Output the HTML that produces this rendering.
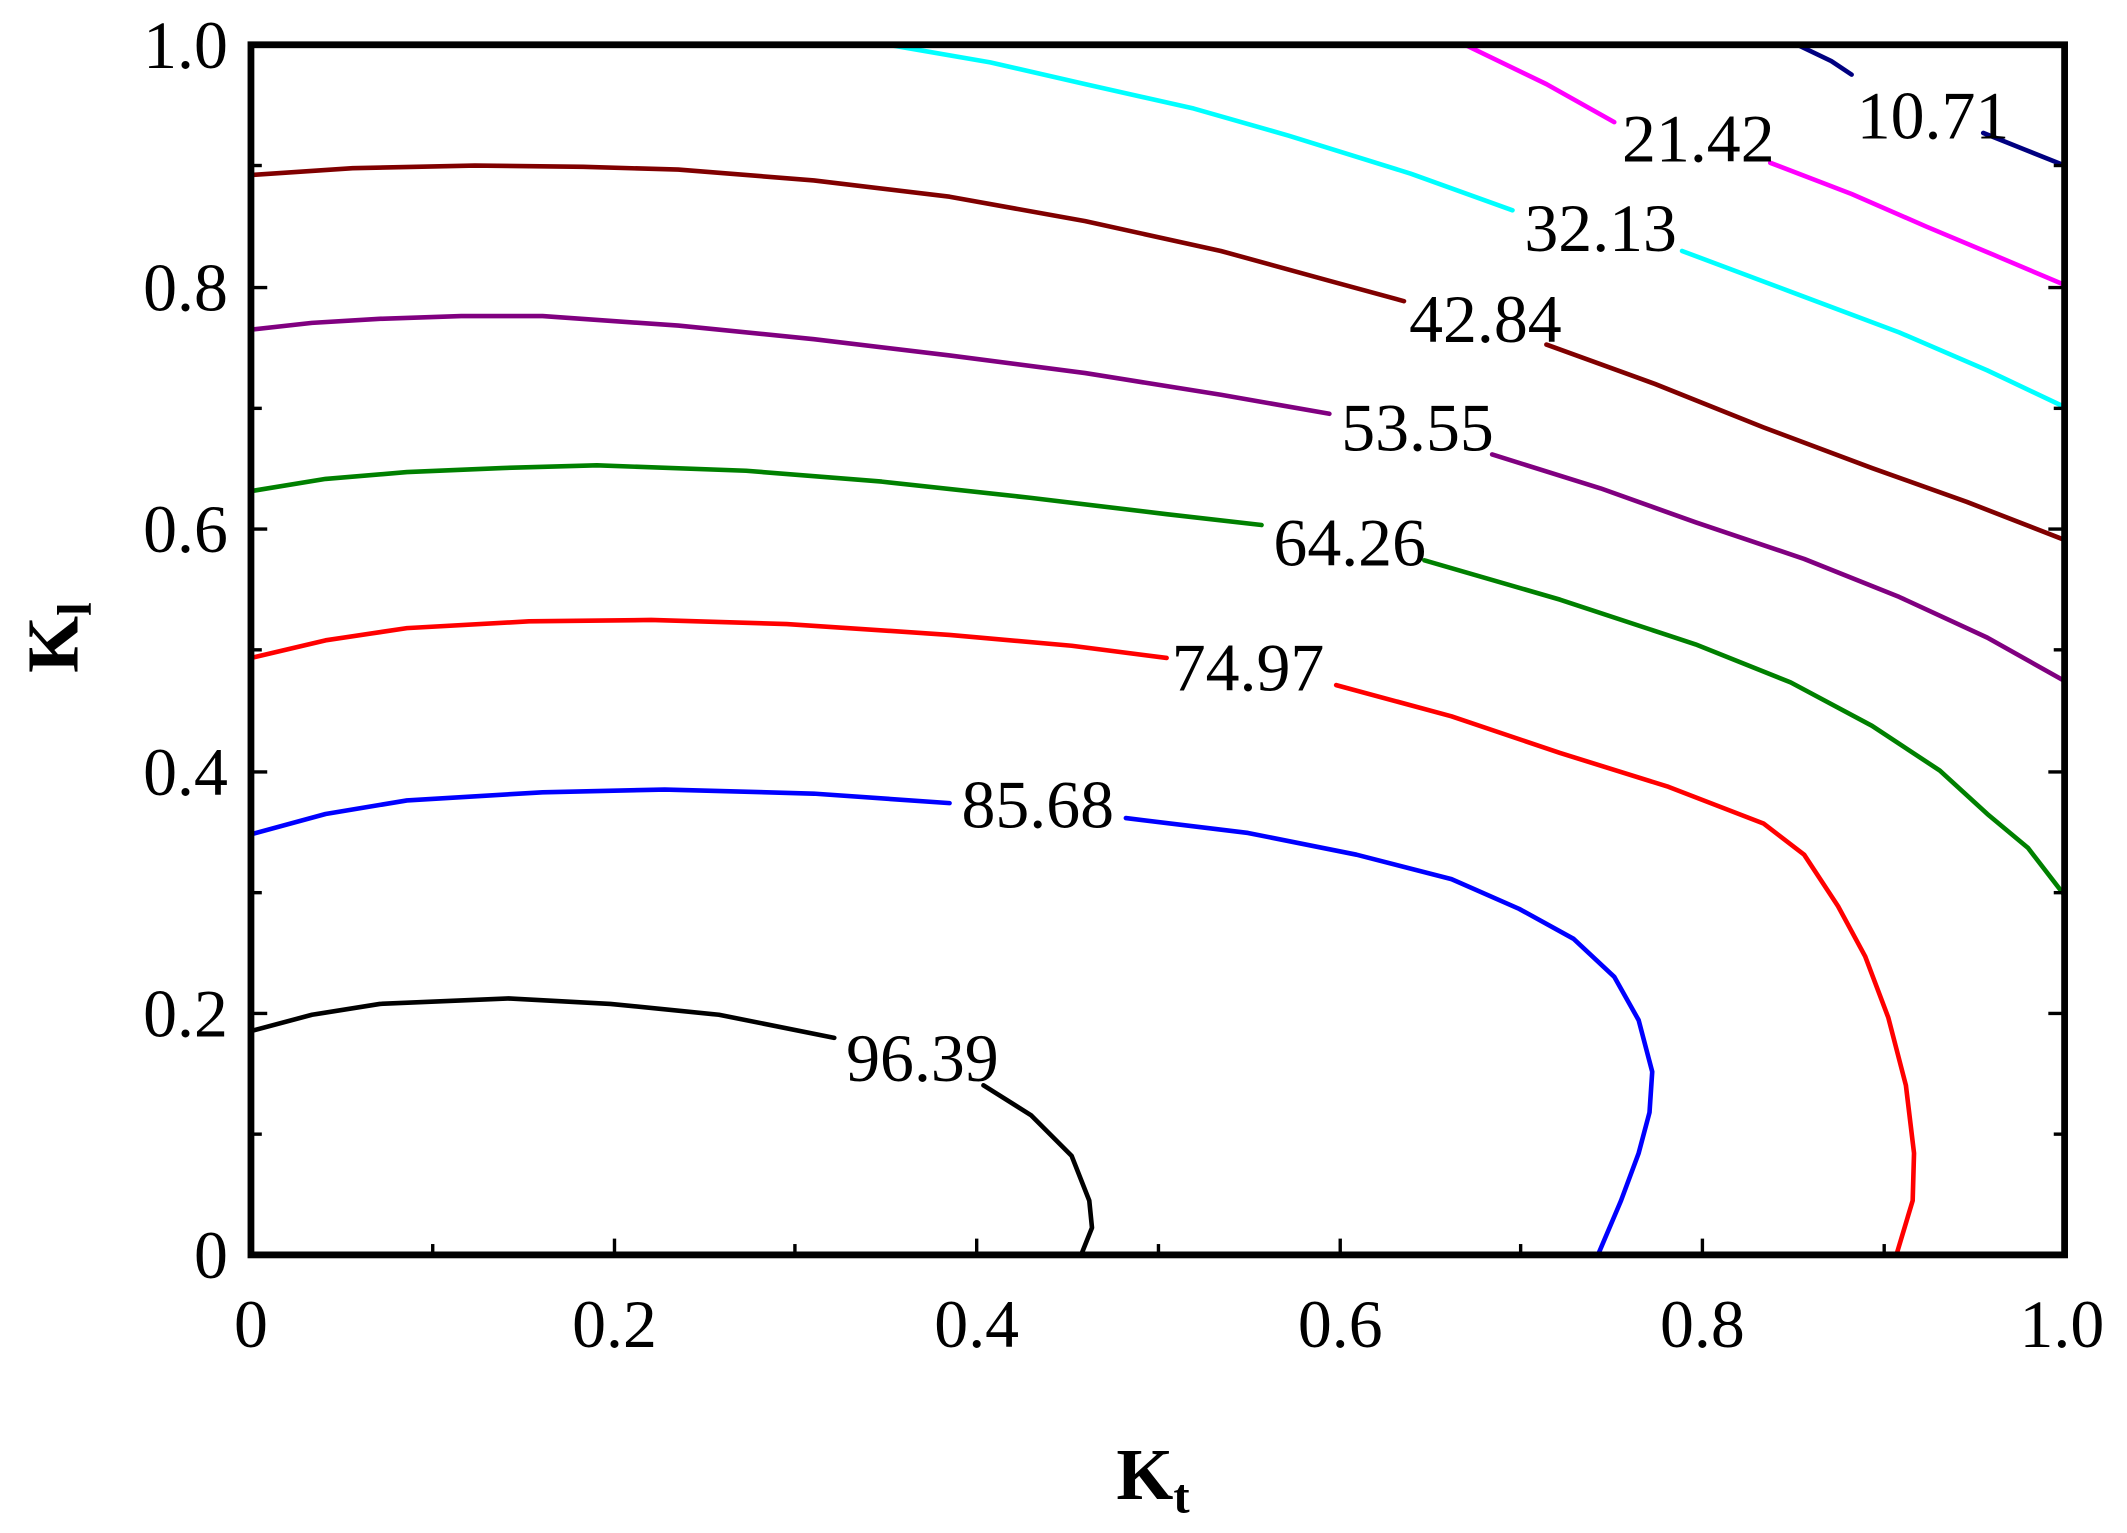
<!DOCTYPE html>
<html><head><meta charset="utf-8"><style>
html,body{margin:0;padding:0;background:#fff;}
svg{display:block;}
text{font-family:"Liberation Serif",serif;}
</style></head><body>
<svg width="2127" height="1533" viewBox="0 0 1568 1130" preserveAspectRatio="none" xmlns="http://www.w3.org/2000/svg">
<rect width="1568" height="1130" fill="#fff"/>
<g fill="none" stroke-width="3.4" stroke-linejoin="round" stroke-linecap="round">
<polyline stroke="#000" points="185,760 230,748 280,740 375,736 450,740 530,748 615,765"/>
<polyline stroke="#000" points="725,800 760,822 790,852 803,885 805,905 797,925"/>
<polyline stroke="#0000ff" points="185,615 240,600 300,590 400,584 490,582 600,585 700,592"/>
<polyline stroke="#0000ff" points="830,603 920,614 1000,630 1070,648 1120,670 1160,692 1190,720 1208,752 1218,790 1216,820 1208,850 1195,885 1178,925"/>
<polyline stroke="#ff0000" points="185,485 240,472 300,463 390,458 480,457 580,460 700,468 790,476 860,485"/>
<polyline stroke="#ff0000" points="985,505 1070,528 1150,555 1230,580 1300,607 1330,630 1355,668 1375,705 1392,750 1405,800 1411,850 1410,885 1398,925"/>
<polyline stroke="#008000" points="185,362 240,353 300,348 370,345 440,343 550,347 650,355 760,367 860,379 930,387"/>
<polyline stroke="#008000" points="1050,413 1150,442 1250,475 1320,503 1380,535 1430,568 1465,600 1495,625 1522,660"/>
<polyline stroke="#800080" points="185,243 230,238 280,235 340,233 400,233 500,240 600,250 700,262 800,275 900,291 980,305"/>
<polyline stroke="#800080" points="1100,335 1180,360 1250,385 1330,412 1400,440 1465,470 1522,502"/>
<polyline stroke="#800000" points="185,129 260,124 350,122 430,123 500,125 600,133 700,145 800,163 900,185 980,207 1035,222"/>
<polyline stroke="#800000" points="1140,254 1220,283 1300,315 1380,345 1450,370 1522,398"/>
<polyline stroke="#00ffff" points="655,33 730,46 800,62 880,80 950,100 1040,128 1115,155"/>
<polyline stroke="#00ffff" points="1240,185 1320,215 1400,245 1465,273 1522,300"/>
<polyline stroke="#ff00ff" points="1080,33 1140,62 1190,90"/>
<polyline stroke="#ff00ff" points="1305,120 1365,143 1420,167 1470,188 1522,210"/>
<polyline stroke="#000080" points="1325,33 1350,45 1365,55"/>
<polyline stroke="#000080" points="1462,98 1492,110 1522,122"/>
</g>
<g font-size="50" fill="#000" text-anchor="middle">
<text x="680" y="797">96.39</text>
<text x="765" y="610">85.68</text>
<text x="920" y="509">74.97</text>
<text x="995" y="417">64.26</text>
<text x="1045" y="332">53.55</text>
<text x="1095" y="252">42.84</text>
<text x="1180" y="185">32.13</text>
<text x="1252" y="119">21.42</text>
<text x="1425" y="102">10.71</text>
</g>
<g stroke="#000" stroke-width="2.5">
<line x1="319" y1="925" x2="319" y2="917"/><line x1="453" y1="925" x2="453" y2="913"/>
<line x1="586" y1="925" x2="586" y2="917"/><line x1="720" y1="925" x2="720" y2="913"/>
<line x1="854" y1="925" x2="854" y2="917"/><line x1="988" y1="925" x2="988" y2="913"/>
<line x1="1121" y1="925" x2="1121" y2="917"/><line x1="1255" y1="925" x2="1255" y2="913"/>
<line x1="1389" y1="925" x2="1389" y2="917"/>
<line x1="185" y1="836" x2="193" y2="836"/><line x1="185" y1="747" x2="197" y2="747"/>
<line x1="185" y1="658" x2="193" y2="658"/><line x1="185" y1="569" x2="197" y2="569"/>
<line x1="185" y1="479" x2="193" y2="479"/><line x1="185" y1="390" x2="197" y2="390"/>
<line x1="185" y1="301" x2="193" y2="301"/><line x1="185" y1="212" x2="197" y2="212"/>
<line x1="185" y1="122" x2="193" y2="122"/>
<line x1="1522" y1="836" x2="1514" y2="836"/><line x1="1522" y1="747" x2="1510" y2="747"/>
<line x1="1522" y1="658" x2="1514" y2="658"/><line x1="1522" y1="569" x2="1510" y2="569"/>
<line x1="1522" y1="479" x2="1514" y2="479"/><line x1="1522" y1="390" x2="1510" y2="390"/>
<line x1="1522" y1="301" x2="1514" y2="301"/><line x1="1522" y1="212" x2="1510" y2="212"/>
<line x1="1522" y1="122" x2="1514" y2="122"/>
</g>
<rect x="185" y="33" width="1337" height="892" fill="none" stroke="#000" stroke-width="5"/>
<g font-size="50" fill="#000" text-anchor="middle">
<text x="185" y="993">0</text><text x="453" y="993">0.2</text><text x="720" y="993">0.4</text>
<text x="988" y="993">0.6</text><text x="1255" y="993">0.8</text><text x="1520" y="993">1.0</text>
</g>
<g font-size="50" fill="#000" text-anchor="end">
<text x="168" y="942">0</text><text x="168" y="764">0.2</text><text x="168" y="586">0.4</text>
<text x="168" y="407">0.6</text><text x="168" y="229">0.8</text><text x="168" y="50">1.0</text>
</g>
<text x="850" y="1105" font-size="54" font-weight="bold" text-anchor="middle">K<tspan font-size="36" dy="10">t</tspan></text>
<text transform="translate(57,470) rotate(-90)" font-size="54" font-weight="bold" text-anchor="middle">K<tspan font-size="36" dy="10">l</tspan></text>
</svg>
</body></html>
